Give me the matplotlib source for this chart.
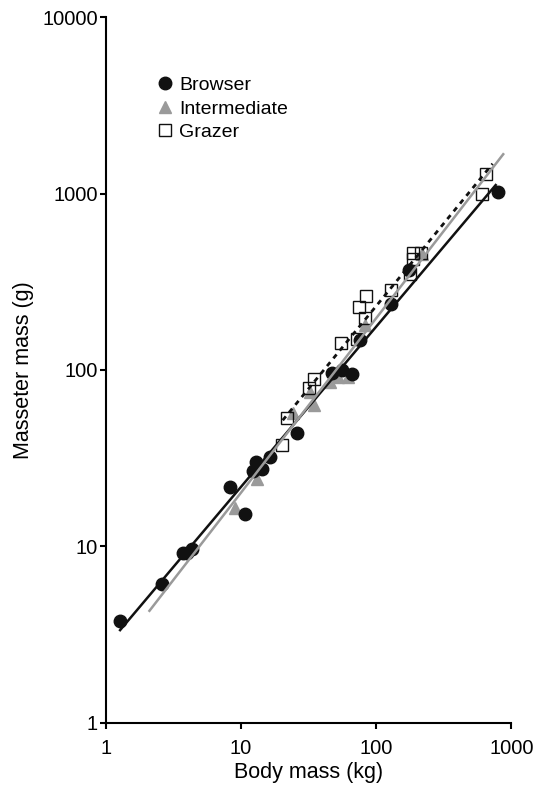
import numpy as np
import matplotlib
matplotlib.use("Agg")
import matplotlib.pyplot as plt

plt.rcParams['font.family'] = ['Liberation Sans', 'DejaVu Sans']

# Browser (filled circles)
browser_x = [1.28, 2.63, 3.72, 3.98, 4.38, 8.32, 10.7, 12.4, 12.9, 14.3, 16.3,
             26.2, 47, 55.7, 66, 76, 129, 175, 792]
browser_y = [3.78, 6.15, 9.2, 9.2, 9.6, 21.7, 15.3, 26.7, 30.1, 27.4, 31.9,
             44, 95.5, 100, 94.6, 147, 236, 367, 1020]

# Intermediate (grey triangles)
inter_x = [9.06, 13.1, 24.4, 32.5, 34.8, 45.6, 52.5, 62.3, 82.8, 217]
inter_y = [16.4, 24.2, 57, 75, 63, 85.5, 91, 91.2, 180, 457]

# Grazer (open squares)
grazer_x = [20, 21.8, 32.1, 34.7, 54.7, 71.9, 74.8, 83.8, 82.8, 129, 178,
            188, 188, 215, 603, 646]
grazer_y = [37.4, 53.7, 79.4, 89.4, 142, 150.6, 227, 262, 196, 286, 352,
            463, 428, 460, 1000, 1298]

# Regression lines: log10(y) = a*log10(x) + b, over the fitted x range
fit_browser = (0.909, 0.427, 1.28, 766)
fit_inter = (0.990, 0.313, 2.11, 871)
fit_grazer = (0.9375, 0.487, 20.4, 727)

grey = '#9a9a9a'


def fit_line(fit):
    a, b, x0, x1 = fit
    xs = np.array([x0, x1])
    return xs, 10 ** (a * np.log10(xs) + b)


fig = plt.figure(figsize=(5.36, 7.88), dpi=100)
ax = fig.add_axes([0.197, 0.083, 0.757, 0.895])

ax.plot(inter_x, inter_y, linestyle='none', marker='^', color=grey,
        markersize=9, label='Intermediate', zorder=2)
ax.plot(browser_x, browser_y, linestyle='none', marker='o', color='#111111',
        markersize=9, label='Browser', zorder=3)
ax.plot(grazer_x, grazer_y, linestyle='none', marker='s', markerfacecolor='none',
        markeredgecolor='#111111', markeredgewidth=1.0, markersize=8.5,
        label='Grazer', zorder=4)

xs, ys = fit_line(fit_browser)
ax.plot(xs, ys, color='#111111', lw=1.8, zorder=5)
xs, ys = fit_line(fit_inter)
ax.plot(xs, ys, color=grey, lw=1.8, zorder=6)
xs, ys = fit_line(fit_grazer)
ax.plot(xs, ys, color='#111111', lw=2.0, linestyle=(0, (1.8, 1.8)), zorder=5)

ax.set_xscale('log')
ax.set_yscale('log')
ax.set_xlim(1, 1000)
ax.set_ylim(1, 10000)
ax.set_xticks([1, 10, 100, 1000])
ax.set_xticklabels(['1', '10', '100', '1000'])
ax.set_yticks([1, 10, 100, 1000, 10000])
ax.set_yticklabels(['1', '10', '100', '1000', '10000'])
ax.minorticks_off()

for s in ['top', 'right']:
    ax.spines[s].set_visible(False)
for s in ['left', 'bottom']:
    ax.spines[s].set_linewidth(1.5)
ax.tick_params(direction='out', length=4, width=1.5, labelsize=14.5)
ax.tick_params(axis='x', pad=8)
ax.tick_params(axis='y', pad=1.5)

ax.set_xlabel('Body mass (kg)', fontsize=15.5, labelpad=3)
ax.set_ylabel('Masseter mass (g)', fontsize=15.5, labelpad=6)

handles, labels = ax.get_legend_handles_labels()
order = [1, 0, 2]
ax.legend([handles[i] for i in order], [labels[i] for i in order],
          loc='upper left', bbox_to_anchor=(0.127, 0.916), frameon=False,
          fontsize=14, handlelength=0.8, handletextpad=0.35, labelspacing=0.3,
          borderpad=0, borderaxespad=0)

fig.savefig('out.png', dpi=100)
